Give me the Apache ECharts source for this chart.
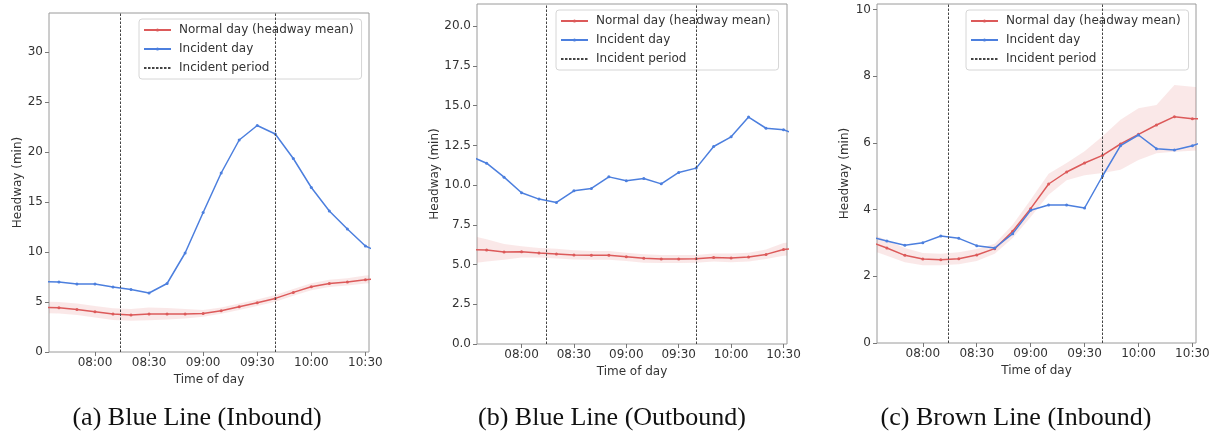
<!DOCTYPE html>
<html>
<head>
<meta charset="utf-8">
<script src="https://cdn.jsdelivr.net/npm/echarts@6/dist/echarts.min.js"></script>
<style>
  html, body { margin: 0; padding: 0; background: #fff; }
  #chart { width: 1214px; height: 433px; }
</style>
</head>
<body>
<div id="chart"></div>
<script>
// 10-minute bins, time of day
var timeLabels = ['07:30', '07:40', '07:50', '08:00', '08:10', '08:20', '08:30', '08:40', '08:50', '09:00',
                  '09:10', '09:20', '09:30', '09:40', '09:50', '10:00', '10:10', '10:20', '10:30', '10:40'];
var xTickLabels = ['08:00', '08:30', '09:00', '09:30', '10:00', '10:30'];
var incidentPeriod = ['08:14', '09:40'];

// (a) Blue Line (Inbound)
var normalA = [4.48, 4.43, 4.26, 4.03, 3.80, 3.70, 3.80, 3.80, 3.80, 3.86, 4.13, 4.53, 4.93, 5.36, 5.96, 6.53, 6.86, 7.00, 7.23, 7.35];
var lowerA = [3.90, 3.85, 3.70, 3.45, 3.20, 3.12, 3.18, 3.25, 3.35, 3.53, 3.82, 4.20, 4.60, 5.03, 5.62, 6.18, 6.50, 6.65, 6.85, 6.95];
var upperA = [5.05, 5.00, 4.85, 4.60, 4.38, 4.30, 4.45, 4.40, 4.30, 4.20, 4.45, 4.85, 5.25, 5.69, 6.30, 6.88, 7.22, 7.38, 7.65, 7.75];
var incidentA = [7.05, 7.00, 6.80, 6.80, 6.50, 6.25, 5.90, 6.85, 9.90, 13.95, 17.90, 21.20, 22.65, 21.80, 19.35, 16.45, 14.10, 12.30, 10.60, 9.80];
var yTicksA = [0, 5, 10, 15, 20, 25, 30];

// (b) Blue Line (Outbound)
var normalB = [5.95, 5.91, 5.79, 5.81, 5.72, 5.66, 5.60, 5.58, 5.58, 5.49, 5.39, 5.35, 5.35, 5.37, 5.45, 5.41, 5.47, 5.64, 5.95, 6.05];
var lowerB = [5.05, 5.20, 5.30, 5.45, 5.45, 5.38, 5.32, 5.30, 5.30, 5.22, 5.12, 5.10, 5.10, 5.12, 5.20, 5.15, 5.20, 5.35, 5.55, 5.65];
var upperB = [6.85, 6.60, 6.30, 6.15, 6.05, 6.00, 5.90, 5.85, 5.85, 5.75, 5.65, 5.60, 5.60, 5.60, 5.70, 5.70, 5.75, 5.95, 6.35, 6.50];
var incidentB = [11.85, 11.38, 10.50, 9.52, 9.12, 8.91, 9.64, 9.79, 10.52, 10.27, 10.42, 10.08, 10.80, 11.07, 12.43, 13.04, 14.28, 13.58, 13.48, 13.10];
var yTicksB = [0, 2.5, 5, 7.5, 10, 12.5, 15, 17.5, 20];

// (c) Brown Line (Inbound)
var normalC = [3.05, 2.85, 2.63, 2.52, 2.50, 2.53, 2.64, 2.83, 3.35, 4.03, 4.77, 5.13, 5.40, 5.63, 5.97, 6.26, 6.54, 6.79, 6.73, 6.71];
var lowerC = [2.80, 2.62, 2.42, 2.33, 2.33, 2.36, 2.46, 2.68, 3.15, 3.78, 4.45, 4.88, 5.03, 5.10, 5.20, 5.49, 5.69, 5.74, 5.77, 5.78];
var upperC = [3.30, 3.08, 2.85, 2.70, 2.68, 2.72, 2.82, 2.98, 3.55, 4.30, 5.08, 5.40, 5.75, 6.20, 6.70, 7.04, 7.14, 7.74, 7.69, 7.65];
var incidentC = [3.20, 3.06, 2.93, 3.01, 3.21, 3.14, 2.92, 2.85, 3.28, 3.98, 4.14, 4.14, 4.05, 5.01, 5.92, 6.24, 5.83, 5.79, 5.92, 6.10];
var yTicksC = [0, 2, 4, 6, 8, 10];

var captions = ['(a) Blue Line (Inbound)', '(b) Blue Line (Outbound)', '(c) Brown Line (Inbound)'];
var legendNames = ['Normal day (headway mean)', 'Incident day', 'Incident period'];

// clock time -> minutes after midnight
function toMin(s) {
    var p = s.split(':');
    return +p[0] * 60 + +p[1];
}
function fmtMin(v) {
    var m = Math.round(v), h = Math.floor(m / 60), mm = m % 60;
    return (h < 10 ? '0' : '') + h + ':' + (mm < 10 ? '0' : '') + mm;
}
var times = timeLabels.map(toMin);
var xTicks = xTickLabels.map(toMin);

var RED = '#dc5a5a', BLUE = '#4c7fde', BAND = 'rgba(222,90,90,0.14)';
var FONT = 'DejaVu Sans';

// layout of the three panels
var panels = [
    { normal: normalA, lower: lowerA, upper: upperA, incident: incidentA, yTicks: yTicksA, yMax: 33.9, dec: 0,
      grid: { left: 49, width: 320, top: 13, height: 339 }, nameGap: 25, legend: { left: 139, top: 19 }, capX: 197 },
    { normal: normalB, lower: lowerB, upper: upperB, incident: incidentB, yTicks: yTicksB, yMax: 21.4, dec: 1,
      grid: { left: 477, width: 310, top: 4, height: 340 }, nameGap: 36, legend: { left: 556, top: 10 }, capX: 612 },
    { normal: normalC, lower: lowerC, upper: upperC, incident: incidentC, yTicks: yTicksC, yMax: 10.17, dec: 0,
      grid: { left: 877, width: 319, top: 4, height: 339 }, nameGap: 26, legend: { left: 966, top: 10 }, capX: 1016 }
];

function pairs(vals) {
    return times.map(function (t, i) { return [t, vals[i]]; });
}
// value first, time second: lets the band stack on the y dimension
function pairsYX(vals) {
    return times.map(function (t, i) { return [vals[i], t]; });
}

var grids = [], xAxes = [], yAxes = [], series = [], legends = [], graphics = [];

panels.forEach(function (p, i) {
    grids.push({
        left: p.grid.left, width: p.grid.width, top: p.grid.top, height: p.grid.height,
        show: true, borderColor: '#9a9a9a', borderWidth: 1, backgroundColor: 'transparent'
    });
    xAxes.push({
        type: 'value', gridIndex: i, min: 454.5, max: 632,
        name: 'Time of day', nameLocation: 'middle', nameGap: 19,
        nameTextStyle: { fontFamily: FONT, fontSize: 12, color: '#333' },
        axisLine: { show: false },
        splitLine: { show: false },
        axisTick: { show: true, length: 4, customValues: xTicks, lineStyle: { color: '#777' } },
        axisLabel: { customValues: xTicks, margin: 5, fontFamily: FONT, fontSize: 12, color: '#333', formatter: fmtMin }
    });
    yAxes.push({
        type: 'value', gridIndex: i, min: 0, max: p.yMax,
        name: 'Headway (min)', nameLocation: 'middle', nameGap: p.nameGap,
        nameTextStyle: { fontFamily: FONT, fontSize: 12, color: '#333' },
        axisLine: { show: false },
        splitLine: { show: false },
        axisTick: { show: true, length: 4, customValues: p.yTicks, lineStyle: { color: '#777' } },
        axisLabel: {
            customValues: p.yTicks, margin: 6, fontFamily: FONT, fontSize: 12, color: '#333',
            formatter: function (v) { return v.toFixed(p.dec); }
        }
    });

    // confidence band: invisible lower bound + stacked width
    series.push({
        name: 'band-low-' + i, type: 'line', xAxisIndex: i, yAxisIndex: i, stack: 'band' + i,
        data: pairsYX(p.lower), encode: { x: 1, y: 0 },
        symbol: 'none', lineStyle: { width: 0, opacity: 0 }, silent: true, z: 1
    });
    series.push({
        name: 'band-' + i, type: 'line', xAxisIndex: i, yAxisIndex: i, stack: 'band' + i,
        data: pairsYX(p.upper.map(function (u, k) { return u - p.lower[k]; })), encode: { x: 1, y: 0 },
        symbol: 'none', lineStyle: { width: 0, opacity: 0 }, areaStyle: { color: BAND, opacity: 1 }, silent: true, z: 1
    });
    series.push({
        name: legendNames[0], type: 'line', xAxisIndex: i, yAxisIndex: i, data: pairs(p.normal),
        symbol: 'circle', symbolSize: 3, showAllSymbol: true,
        itemStyle: { color: RED }, lineStyle: { color: RED, width: 1.5 }, z: 3
    });
    series.push({
        name: legendNames[1], type: 'line', xAxisIndex: i, yAxisIndex: i, data: pairs(p.incident),
        symbol: 'circle', symbolSize: 3, showAllSymbol: true,
        itemStyle: { color: BLUE }, lineStyle: { color: BLUE, width: 1.5 }, z: 4
    });
    series.push({
        name: legendNames[2], type: 'line', xAxisIndex: i, yAxisIndex: i, data: [],
        symbol: 'none', itemStyle: { color: '#444' }, lineStyle: { color: '#444', width: 1, type: [2.5, 1.5] },
        markLine: {
            silent: true, symbol: ['none', 'none'], label: { show: false },
            lineStyle: { color: '#444', width: 1, type: [2.5, 1.5] },
            data: incidentPeriod.map(function (s) { return { xAxis: toMin(s) }; })
        },
        z: 2
    });

    legends.push({
        left: p.legend.left, top: p.legend.top, orient: 'vertical',
        data: [
            { name: legendNames[0] },
            { name: legendNames[1] },
            { name: legendNames[2], itemStyle: { color: 'rgba(0,0,0,0)', borderWidth: 0 } }
        ],
        itemWidth: 27, itemHeight: 4, itemGap: 5,
        padding: [4, 8, 4, 4],
        backgroundColor: 'rgba(255,255,255,0.8)', borderColor: '#d6d6d6', borderWidth: 1, borderRadius: 3,
        selectedMode: false,
        textStyle: { fontFamily: FONT, fontSize: 12, color: '#333', lineHeight: 14, padding: [0, 0, 0, 3] }
    });

    graphics.push({
        type: 'text', x: p.capX, y: 418,
        style: {
            text: captions[i], fill: '#111', fontSize: 26, fontFamily: 'Liberation Serif',
            align: 'center', verticalAlign: 'middle', textAlign: 'center', textVerticalAlign: 'middle'
        }
    });
});

var myChart = echarts.init(document.getElementById('chart'));
myChart.setOption({
    animation: false,
    backgroundColor: '#fff',
    grid: grids,
    xAxis: xAxes,
    yAxis: yAxes,
    legend: legends,
    graphic: graphics,
    series: series
});
</script>
</body>
</html>
